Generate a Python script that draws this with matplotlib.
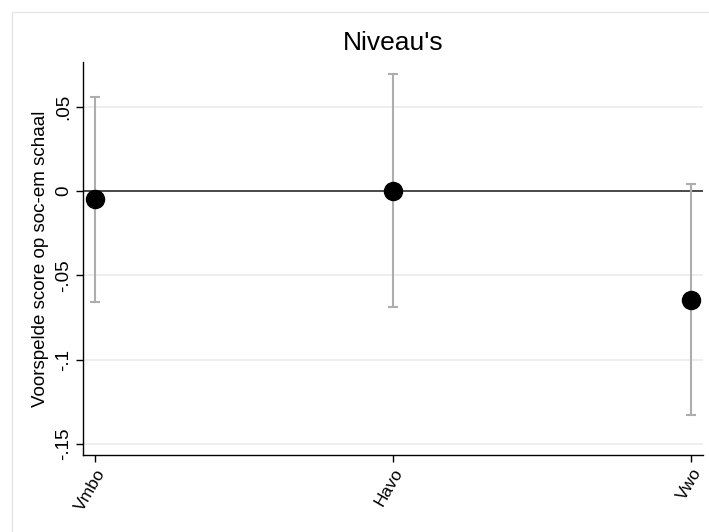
import matplotlib
matplotlib.use("Agg")
import matplotlib.pyplot as plt
from matplotlib.patches import Rectangle
import numpy as np

# Data
categories = ["Vmbo", "Havo", "Vwo"]
estimates = [-0.0046, 0.0003, -0.0646]
ci_upper = [0.056, 0.0696, 0.0041]
ci_lower = [-0.0656, -0.069, -0.133]
y_ticks = [0.05, 0, -0.05, -0.1, -0.15]
y_tick_labels = [".05", "0", "-.05", "-.1", "-.15"]

plt.rcParams["font.family"] = ["Liberation Sans", "DejaVu Sans"]

W, H = 709, 532
fig = plt.figure(figsize=(W / 100, H / 100), dpi=100)

# outer graph-region frame (Stata style), cut off at right/bottom
fig.patches.append(Rectangle((12 / W, -0.1), 1.2, (H - 12) / H + 0.1,
                             transform=fig.transFigure, fill=False,
                             edgecolor="#e6e6e6", linewidth=1.0))

ax = fig.add_axes([83 / W, (H - 455) / H, 620 / W, 393 / H])

x = np.arange(1, len(categories) + 1)
est = np.array(estimates)
yerr = [est - np.array(ci_lower), np.array(ci_upper) - est]

ax.axhline(0, color="#3c3c3c", linewidth=1.3, zorder=2)
ax.errorbar(x, est, yerr=yerr, fmt="none", ecolor="#adadad",
            elinewidth=1.5, capsize=3.3, capthick=1.5, zorder=3)
ax.plot(x, est, "o", color="black", markersize=13, zorder=4)

ax.set_xlim(0.9597, 3.040)
ax.set_ylim(-0.1567, 0.0767)

ax.set_yticks(y_ticks)
ax.set_yticklabels(y_tick_labels, rotation=90, va="center", fontsize=13.5)
ax.set_xticks(x)
ax.set_xticklabels(categories, rotation=60, ha="right", va="top",
                   rotation_mode="anchor", fontsize=12.5)

ax.yaxis.grid(True, color="#ebebeb", linewidth=1.2)
ax.set_axisbelow(True)

for s in ["top", "right"]:
    ax.spines[s].set_visible(False)
for s in ["left", "bottom"]:
    ax.spines[s].set_linewidth(1.0)
ax.tick_params(axis="both", direction="out", length=5, width=1.0,
               colors="black", pad=3)

ax.set_ylabel("Voorspelde score op soc-em schaal", fontsize=13.5, labelpad=4)
ax.set_title("Niveau's", fontsize=19, pad=9)

fig.savefig("out.png", dpi=100, facecolor="white")
